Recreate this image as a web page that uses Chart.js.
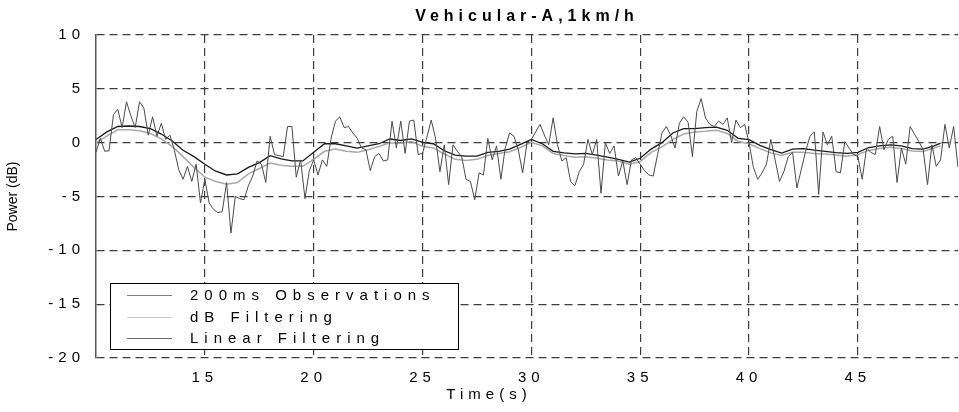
<!DOCTYPE html>
<html>
<head>
<meta charset="utf-8">
<script src="https://cdn.jsdelivr.net/npm/chart.js@4.4.0/dist/chart.umd.min.js"></script>
<style>
  html, body { margin: 0; padding: 0; background: #fff; }
  canvas { display: block; }
</style>
</head>
<body>
<canvas id="powerChart" width="959" height="412"></canvas>
<script>
const FONT = '"Liberation Sans", Arial, Helvetica, sans-serif';

/* 200 ms power observations (dB), starting at 10 s */
const obsStart = 10;
const obsStep = 0.2;
const obsPower = [
  -0.9, 0.4, -0.8, -0.75, 2.6, 3.1, 1.4, 3.8, 2.5, 1.4,
  3.8, 3.2, 0.7, 2.4, 0.6, 1.8, 0.3, 0.7, -0.7, -2.5,
  -3.4, -2.2, -3.6, -2.0, -5.6, -3.4, -5.6, -6.2, -6.5, -6.4,
  -3.7, -8.4, -5.0, -5.2, -5.3, -4.0, -3.1, -1.7, -2.0, -3.7,
  0.6, -1.1, -1.2, -1.3, 1.5, 1.5, -3.2, -1.6, -5.2, -2.6,
  -1.6, -3.0, -1.6, -2.2, 0.4, 2.0, 2.4, 1.4, 1.5, 0.9,
  0.4, -0.5, -0.65, -2.6, -1.3, -1.0, -1.7, -1.6, 2.0, -0.5,
  2.0, -1.0, 2.0, 2.1, -1.1, -1.0, 0.5, 2.1, 0.4, -2.7,
  -0.2, -3.9, -0.2, -0.8, -1.3, -3.4, -3.6, -5.3, -2.8, -3.0,
  0.4, -1.6, -0.3, -3.4, -0.5, 0.9, 0.6, -0.65, -2.8, 0.0,
  0.3, 1.0, 1.7, 0.7, -0.2, 2.3, -0.2, -1.7, -1.4, -3.6,
  -4.0, -2.7, -2.0, 0.3, -1.1, 0.3, -4.7, 0.0, -1.0, -0.3,
  -3.1, -1.7, -3.9, -1.6, -1.4, -2.0, -2.6, -3.0, -3.1, -1.1,
  0.9, 1.5, 0.7, -0.5, 1.8, 2.4, 1.9, -1.3, 2.9, 4.1,
  2.3, 1.7, 1.5, 2.0, 1.7, 2.3, 0.0, 2.1, 1.4, 1.7,
  0.0, -2.3, -3.4, -2.8, -2.0, 0.3, -1.6, -3.6, -2.7, -1.3,
  -0.9, -4.2, -2.5, -0.8, 0.6, 1.0, -4.8, 1.0, -0.2, 0.6,
  -2.7, -2.8, 0.1, -0.5, -1.1, -1.3, -3.4, -0.5, -0.9, -1.1,
  1.5, -0.65, 0.3, 0.6, -3.7, -0.5, -2.0, 1.5, 0.8, 0.1,
  -0.65, -3.9, -0.2, -2.2, -1.6, 1.7, -0.5, 1.5, -2.3
];

/* filtered estimates (dB) */
const filtTime = [
  10, 10.5, 11, 11.5, 12, 12.5, 13, 13.5, 14, 14.5,
  15, 15.5, 16, 16.5, 17, 17.5, 18, 18.5, 19, 19.5,
  20, 20.5, 21, 21.5, 22, 22.5, 23, 23.5, 24, 24.5,
  25, 25.5, 26, 26.5, 27, 27.5, 28, 28.5, 29, 29.5,
  30, 30.5, 31, 31.5, 32, 32.5, 33, 33.5, 34, 34.5,
  35, 35.5, 36, 36.5, 37, 37.5, 38, 38.5, 39, 39.5,
  40, 40.5, 41, 41.5, 42, 42.5, 43, 43.5, 44, 44.5,
  45, 45.5, 46, 46.5, 47, 47.5, 48, 48.5, 48.8
];
const dbFiltered = [
  0.0, 0.6, 1.2, 1.2, 1.1, 0.85, 0.35, -0.35, -1.3, -2.3,
  -3.2, -3.6, -3.85, -3.7, -2.9, -2.4, -1.9, -2.1, -2.2, -2.2,
  -1.55, -0.8, -0.6, -0.8, -0.9, -0.65, -0.35, 0.0, -0.05, 0.1,
  -0.34, -0.5, -1.05, -1.55, -1.65, -1.55, -1.2, -1.0, -0.85, -0.45,
  0.03, -0.3, -1.0, -1.2, -1.35, -1.3, -1.45, -1.6, -1.7, -2.0,
  -1.75, -0.9, -0.4, 0.3, 0.8, 1.0, 1.05, 1.15, 0.85, 0.1,
  -0.1, -0.55, -0.95, -1.2, -0.9, -0.9, -1.0, -1.05, -1.15, -1.25,
  -1.1, -0.72, -0.55, -0.42, -0.55, -0.78, -0.82, -0.5, -0.3
];
const linFiltered = [
  0.3, 1.0, 1.5, 1.55, 1.5, 1.3, 0.8, 0.15, -0.7, -1.3,
  -2.0, -2.65, -3.0, -2.9, -2.3, -1.85, -1.2, -1.5, -1.7, -1.7,
  -0.9, -0.1, -0.1, -0.3, -0.5, -0.3, -0.1, 0.34, 0.2, 0.35,
  0.03, -0.1, -0.75, -1.15, -1.25, -1.25, -0.9, -0.8, -0.6, -0.15,
  0.3, -0.1, -0.8, -0.95, -1.05, -1.0, -1.15, -1.35, -1.55, -1.8,
  -1.45, -0.6, 0.0, 0.9, 1.3, 1.3, 1.4, 1.45, 1.15, 0.4,
  0.28, -0.25, -0.65, -0.96, -0.6, -0.55, -0.7, -0.8, -0.93, -1.0,
  -0.9, -0.45, -0.3, -0.2, -0.3, -0.55, -0.6, -0.3, -0.05
];

const xTicks = [15, 20, 25, 30, 35, 40, 45];
const seriesNames = ['200ms Observations', 'dB Filtering', 'Linear Filtering'];

const obsPoints = obsPower.map((p, i) => ({ x: obsStart + i * obsStep, y: p }));
const dbPoints = filtTime.map((t, i) => ({ x: t, y: dbFiltered[i] }));
const linPoints = filtTime.map((t, i) => ({ x: t, y: linFiltered[i] }));

// wide letter spacing on all chart text
const spacing = {
  id: 'spacing',
  beforeDraw(chart) { chart.ctx.letterSpacing = '5px'; }
};

// boxed legend in the lower left corner of the axes
const legendBox = {
  id: 'legendBox',
  afterDatasetsDraw(chart) {
    const { ctx, chartArea } = chart;
    const left = chartArea.left + 14;
    const w = 348, h = 66, rowH = 21.5;
    const top = chartArea.bottom - 9 - h;
    ctx.save();
    ctx.fillStyle = '#fff';
    ctx.fillRect(left, top, w, h);
    ctx.strokeStyle = '#000';
    ctx.lineWidth = 1;
    ctx.strokeRect(left + 0.5, top + 0.5, w, h);
    ctx.font = '15px ' + FONT;
    ctx.letterSpacing = '6px';
    ctx.textBaseline = 'middle';
    ctx.textAlign = 'left';
    chart.data.datasets.forEach((ds, i) => {
      const y = Math.round(top + 12 + i * rowH) + 0.5;
      ctx.strokeStyle = ds.legendColor;
      ctx.lineWidth = 1.2;
      ctx.beginPath();
      ctx.moveTo(left + 17, y);
      ctx.lineTo(left + 62, y);
      ctx.stroke();
      ctx.fillStyle = '#000';
      ctx.fillText(ds.label, left + 80, y);
    });
    ctx.restore();
  }
};

// axis labels: y with normal spacing, x set a little left of centre
const axisLabels = {
  id: 'axisLabels',
  afterDraw(chart) {
    const { ctx, chartArea } = chart;
    ctx.save();
    ctx.fillStyle = '#000';
    ctx.textAlign = 'center';
    ctx.textBaseline = 'middle';

    ctx.letterSpacing = '5px';
    ctx.font = '15px ' + FONT;
    ctx.fillText('Time(s)', (chartArea.left + chartArea.right) / 2 - 38, chartArea.bottom + 37);

    ctx.letterSpacing = '0px';
    ctx.font = '14px ' + FONT;
    ctx.translate(13, (chartArea.top + chartArea.bottom) / 2);
    ctx.rotate(-Math.PI / 2);
    ctx.fillText('Power (dB)', 0, 0);
    ctx.restore();
  }
};

new Chart(document.getElementById('powerChart'), {
  type: 'line',
  data: {
    datasets: [
      { label: seriesNames[0], data: obsPoints, borderColor: '#4a4a4a', legendColor: '#808080', borderWidth: 1 },
      { label: seriesNames[1], data: dbPoints, borderColor: '#a8a8a8', legendColor: '#c4c4c4', borderWidth: 1.5 },
      { label: seriesNames[2], data: linPoints, borderColor: '#1a1a1a', legendColor: '#6a6a6a', borderWidth: 1.3 }
    ]
  },
  options: {
    responsive: false,
    animation: false,
    layout: { padding: { left: 0, right: 1, top: 0, bottom: 0 } },
    elements: { point: { radius: 0 }, line: { tension: 0, fill: false } },
    plugins: {
      legend: { display: false },
      tooltip: { enabled: false },
      title: {
        display: true,
        fullSize: false,
        text: 'Vehicular-A,1km/h',
        color: '#000',
        font: { family: FONT, size: 16, weight: 'bold' },
        padding: { top: 7, bottom: 8.8 }
      }
    },
    scales: {
      x: {
        type: 'linear',
        min: 10,
        max: 49.6,
        afterBuildTicks: s => { s.ticks = xTicks.map(v => ({ value: v })); },
        afterFit: s => { s.height = 54; },
        grid: { color: '#3c3c3c', lineWidth: 1.2, drawTicks: false },
        border: { display: false, dash: [8, 5] },
        ticks: { color: '#000', font: { family: FONT, size: 15 }, padding: 11, maxRotation: 0, autoSkip: false }
      },
      y: {
        min: -20,
        max: 10,
        afterFit: s => { s.width = 96; },
        grid: { color: '#3c3c3c', lineWidth: 1.2, drawTicks: false },
        border: { display: true, color: '#555', width: 1.5, dash: [8, 5] },
        ticks: { stepSize: 5, color: '#000', font: { family: FONT, size: 15 }, padding: 11 }
      }
    }
  },
  plugins: [spacing, legendBox, axisLabels]
});
</script>
</body>
</html>
